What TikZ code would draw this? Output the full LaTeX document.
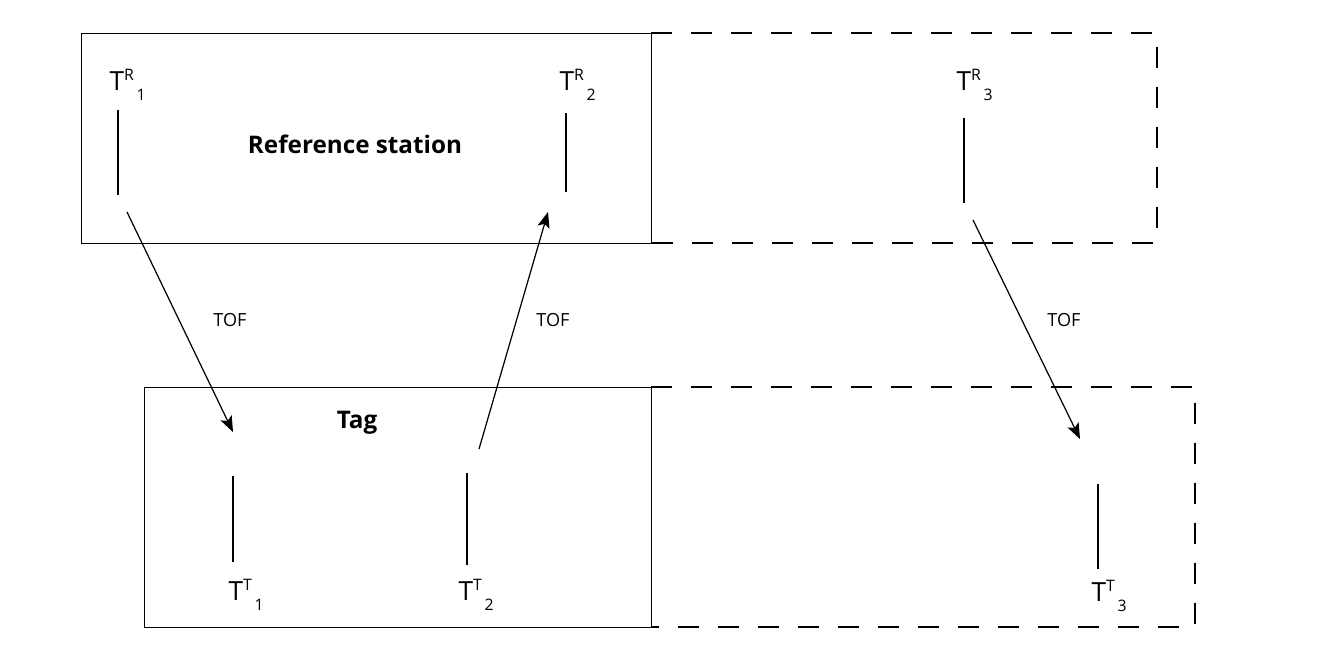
\documentclass[tikz,border=0pt]{standalone}
\usepackage{fontspec}
\setmainfont{Open Sans}
\usetikzlibrary{arrows.meta}
\newcommand{\tstamp}[2]{T\raisebox{0.36em}{\fontsize{9}{9}\selectfont #1}\raisebox{-0.4em}{\fontsize{9}{9}\selectfont\,#2}}
\begin{document}
\begin{tikzpicture}[x=0.02cm,y=-0.02cm,line width=0.7pt,
    tlabel/.style={inner sep=0pt,anchor=base west,font=\fontsize{15}{15}\selectfont},
    tof/.style={inner sep=0pt,anchor=base,font=\fontsize{10.3}{11}\selectfont},
    boxtitle/.style={inner sep=0pt,anchor=base,font=\fontsize{13.8}{14}\selectfont\bfseries},
    frame/.style={line width=0.5pt},
    ghost/.style={dash pattern=on 0.42cm off 0.38cm},
    msg/.style={-{Stealth[length=9pt,width=7pt,inset=2pt]}}]
    \useasboundingbox (0,0) rectangle (1332,647);
    % reference station and tag
    \draw[frame] (81,33) rectangle (651,243);
    \draw[ghost] (651,33) -- (1157,33) -- (1157,243) -- (651,243);
    \draw[frame] (144,387) rectangle (651,627);
    \draw[ghost] (651,387) -- (1195,387) -- (1195,627) -- (651,627);
    \node (station) [boxtitle] at (355,153) {Reference station};
    \node (tag) [boxtitle] at (357,428) {Tag};
    % time stamps
    \node (r1) [tlabel] at (109,90) {\tstamp{R}{1}};
    \node (r2) [tlabel] at (559,90) {\tstamp{R}{2}};
    \node (r3) [tlabel] at (956,90) {\tstamp{R}{3}};
    \node (t1) [tlabel] at (228,600) {\tstamp{T}{1}};
    \node (t2) [tlabel] at (458,600) {\tstamp{T}{2}};
    \node (t3) [tlabel] at (1091,601) {\tstamp{T}{3}};
    \coordinate (r1a) at (118,110); \coordinate (r1b) at (118,195);
    \coordinate (r2a) at (566,113); \coordinate (r2b) at (566,192);
    \coordinate (r3a) at (964,118); \coordinate (r3b) at (964,203);
    \coordinate (t1a) at (233,476); \coordinate (t1b) at (233,562);
    \coordinate (t2a) at (467,473); \coordinate (t2b) at (467,565);
    \coordinate (t3a) at (1098,484); \coordinate (t3b) at (1098,569);
    \foreach \s in {r1,r2,r3,t1,t2,t3}
        \draw (\s a) -- (\s b);
    % messages
    \coordinate (m1a) at (127,212); \coordinate (m1b) at (233,432);
    \coordinate (m2a) at (479,449); \coordinate (m2b) at (548,212);
    \coordinate (m3a) at (973,220); \coordinate (m3b) at (1080,439);
    \draw[msg] (m1a) -- (m1b);
    \draw[msg] (m2a) -- (m2b);
    \draw[msg] (m3a) -- (m3b);
    \node (tof1) [tof] at (230,326) {TOF};
    \node (tof2) [tof] at (553,326) {TOF};
    \node (tof3) [tof] at (1064,326) {TOF};
\end{tikzpicture}
\end{document}
